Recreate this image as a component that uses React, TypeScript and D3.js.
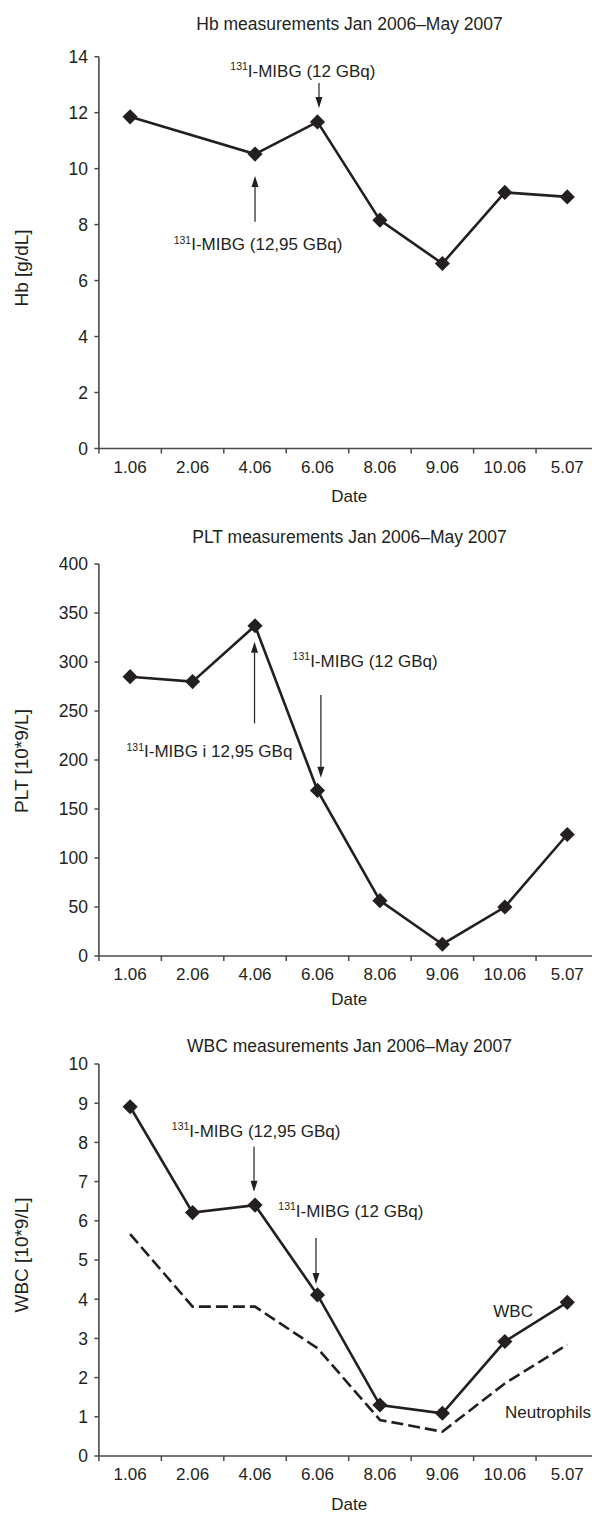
import React from "react";
import * as d3 from "d3";

const CATS = ["1.06", "2.06", "4.06", "6.06", "8.06", "9.06", "10.06", "5.07"];
const HB = [11.85, null, 10.52, 11.67, 8.16, 6.61, 9.15, 8.99];
const PLT = [285, 280, 337, 169, 56.5, 12, 50, 124];
const WBC = [8.91, 6.21, 6.4, 4.11, 1.3, 1.09, 2.92, 3.92];
const NEUT = [5.66, 3.81, 3.81, 2.75, 0.92, 0.62, 1.85, 2.84];
const HB_TICKS = [0, 2, 4, 6, 8, 10, 12, 14];
const PLT_TICKS = [0, 50, 100, 150, 200, 250, 300, 350, 400];
const WBC_TICKS = [0, 1, 2, 3, 4, 5, 6, 7, 8, 9, 10];

const FONT = "'Liberation Sans', Arial, sans-serif";
const INK = "#231f20";
const AXIS = "#4a4a4a";

const x = d3.scaleBand<string>().domain(CATS).range([98.9, 598.5]).paddingInner(0).paddingOuter(0);
const cx = (c: string) => (x(c) as number) + x.bandwidth() / 2;

type Ann = { text: string; x: number; y: number };
type Arrow = { cat: string; dx?: number; y1: number; y2: number };

function Mib({ a }: { a: Ann }) {
  return (
    <text x={a.x} y={a.y} fontSize={17} fill={INK} fontFamily={FONT}>
      <tspan fontSize={10.5} dy={-6.5}>131</tspan>
      <tspan dy={6.5}>{a.text}</tspan>
    </text>
  );
}

function ArrowMark({ a }: { a: Arrow }) {
  const ax = cx(a.cat) + (a.dx || 0);
  const dir = a.y2 > a.y1 ? 1 : -1;
  const hl = 11;
  const hw = 3.5;
  const base = a.y2 - dir * hl;
  return (
    <g>
      <line x1={ax} x2={ax} y1={a.y1} y2={base} stroke={INK} strokeWidth={1.2} />
      <path d={`M${ax},${a.y2}L${ax - hw},${base}L${ax + hw},${base}Z`} fill={INK} />
    </g>
  );
}

type ChartProps = {
  title: string;
  titleY: number;
  yLabel: string;
  yLabelY: number;
  top: number;
  bottom: number;
  ticks: number[];
  series: (number | null)[][];
  dashed?: number[];
  markers: boolean[];
  dateY: number;
  anns: Ann[];
  arrows: Arrow[];
  extra?: React.ReactNode;
};

function Chart(p: ChartProps) {
  const yMax = p.ticks[p.ticks.length - 1];
  const y = d3.scaleLinear().domain([0, yMax]).range([p.bottom, p.top]);
  const line = d3
    .line<{ c: string; v: number }>()
    .x((d) => cx(d.c))
    .y((d) => y(d.v));
  const x0 = x.range()[0];
  const sym = d3.symbol(d3.symbolSquare, 115)();
  return (
    <g>
      <text x={349.5} y={p.titleY} textAnchor="middle" fontSize={17.5} fill={INK} fontFamily={FONT}>
        {p.title}
      </text>
      <text
        transform={`translate(28,${p.yLabelY}) rotate(-90)`}
        textAnchor="middle"
        fontSize={19}
        fill={INK}
        fontFamily={FONT}
      >
        {p.yLabel}
      </text>
      {/* y axis */}
      <line x1={x0} x2={x0} y1={p.top} y2={p.bottom} stroke={AXIS} strokeWidth={1.6} />
      {p.ticks.map((t) => (
        <g key={t}>
          <line x1={x0 - 4.5} x2={x0} y1={y(t)} y2={y(t)} stroke={AXIS} strokeWidth={1.5} />
          <text x={88} y={y(t)} dy="0.36em" textAnchor="end" fontSize={17.5} fill={INK} fontFamily={FONT}>
            {t}
          </text>
        </g>
      ))}
      {/* x axis */}
      <line x1={x0} x2={600} y1={p.bottom} y2={p.bottom} stroke={AXIS} strokeWidth={1.6} />
      {CATS.map((c) => (
        <g key={c}>
          <line x1={x(c)} x2={x(c)} y1={p.bottom} y2={p.bottom + 5} stroke={AXIS} strokeWidth={1.5} />
          <text x={cx(c)} y={p.bottom + 24} textAnchor="middle" fontSize={17} fill={INK} fontFamily={FONT}>
            {c}
          </text>
        </g>
      ))}
      <text x={349.2} y={p.dateY} textAnchor="middle" fontSize={17} fill={INK} fontFamily={FONT}>
        Date
      </text>
      {p.dashed && (
        <path
          d={line(p.dashed.map((v, i) => ({ c: CATS[i], v }))) || ""}
          fill="none"
          stroke={INK}
          strokeWidth={2.6}
          strokeDasharray="12 5"
        />
      )}
      {p.series.map((s, si) => {
        const pts = s
          .map((v, i) => ({ c: CATS[i], v: v as number, ok: v !== null }))
          .filter((d) => d.ok);
        return (
          <g key={si}>
            <path d={line(pts) || ""} fill="none" stroke={INK} strokeWidth={2.6} />
            {p.markers[si] &&
              pts.map((d) => (
                <path
                  key={d.c}
                  d={sym || ""}
                  transform={`translate(${cx(d.c)},${y(d.v)}) rotate(45)`}
                  fill={INK}
                />
              ))}
          </g>
        );
      })}
      {p.arrows.map((a, i) => (
        <ArrowMark key={i} a={a} />
      ))}
      {p.anns.map((a, i) => (
        <Mib key={i} a={a} />
      ))}
      {p.extra}
    </g>
  );
}

export default function App() {
  return (
    <svg
      width={592}
      height={1514}
      viewBox="0 0 592 1514"
      style={{ position: "absolute", left: 0, top: 0, display: "block", background: "#fff" }}
    >
      <rect width={592} height={1514} fill="#fff" />
      <Chart
        title="Hb measurements Jan 2006–May 2007"
        titleY={30}
        yLabel="Hb [g/dL]"
        yLabelY={268}
        top={56.7}
        bottom={448.5}
        ticks={HB_TICKS}
        series={[HB]}
        markers={[true]}
        dateY={501.7}
        anns={[
          { text: "I-MIBG (12 GBq)", x: 230.3, y: 76.7 },
          { text: "I-MIBG (12,95 GBq)", x: 173.7, y: 250 },
        ]}
        arrows={[
          { cat: "6.06", dx: 1.5, y1: 83, y2: 108 },
          { cat: "4.06", y1: 221.7, y2: 176 },
        ]}
      />
      <Chart
        title="PLT measurements Jan 2006–May 2007"
        titleY={543.3}
        yLabel="PLT [10*9/L]"
        yLabelY={761}
        top={564}
        bottom={956}
        ticks={PLT_TICKS}
        series={[PLT]}
        markers={[true]}
        dateY={1005}
        anns={[
          { text: "I-MIBG (12 GBq)", x: 292.6, y: 666.7 },
          { text: "I-MIBG i 12,95 GBq", x: 126.5, y: 757 },
        ]}
        arrows={[
          { cat: "4.06", dx: -0.5, y1: 723.3, y2: 641.7 },
          { cat: "6.06", dx: 3.4, y1: 695, y2: 777.7 },
        ]}
      />
      <Chart
        title="WBC measurements Jan 2006–May 2007"
        titleY={1051.7}
        yLabel="WBC [10*9/L]"
        yLabelY={1255}
        top={1064}
        bottom={1456}
        ticks={WBC_TICKS}
        series={[WBC]}
        dashed={NEUT}
        markers={[true]}
        dateY={1510}
        anns={[
          { text: "I-MIBG (12,95 GBq)", x: 171.8, y: 1136.7 },
          { text: "I-MIBG (12 GBq)", x: 278.3, y: 1216.7 },
        ]}
        arrows={[
          { cat: "4.06", dx: -1, y1: 1146.7, y2: 1191.7 },
          { cat: "6.06", dx: -1.5, y1: 1238, y2: 1284 },
        ]}
        extra={
          <g>
            <text x={493.3} y={1316.7} fontSize={17} fill={INK} fontFamily={FONT}>
              WBC
            </text>
            <text x={505} y={1418.3} fontSize={17} fill={INK} fontFamily={FONT}>
              Neutrophils
            </text>
          </g>
        }
      />
    </svg>
  );
}
